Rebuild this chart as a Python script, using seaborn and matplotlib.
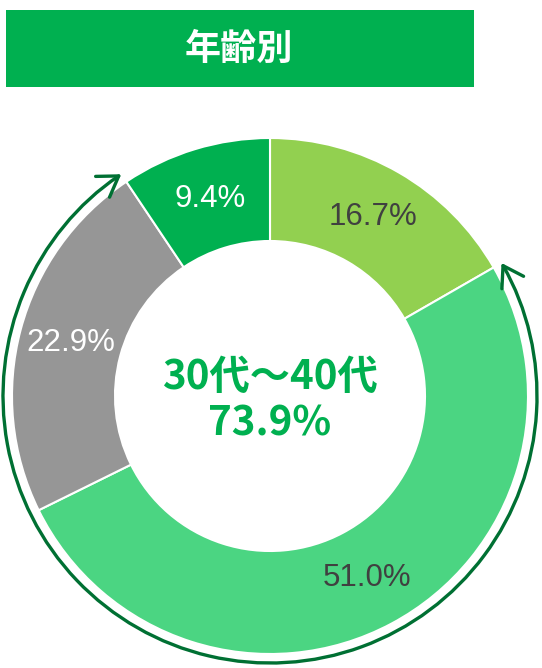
"""
Donut chart : répartition par âge (年齢別)
"""

import numpy as np
import matplotlib
matplotlib.use('Agg')
import matplotlib.pyplot as plt
import seaborn as sns
from matplotlib.patches import Rectangle, FancyArrowPatch
from matplotlib.path import Path
from matplotlib.transforms import Affine2D

# Données
segments = ['20代以下', '30代', '40代', '50代以上']
shares = [16.7, 51.0, 22.9, 9.4]
seg_colors = ['#92D050', '#4BD582', '#969696', '#00B050']
label_colors = ['#404040', '#404040', 'white', 'white']
title = '年齢別'
center_label = '30代～40代'
center_value = '73.9%'

# Configuration
sns.set_theme(style='white')
plt.rcParams['font.family'] = ['Noto Sans CJK JP', 'DejaVu Sans']

W, H = 542, 668
fig = plt.figure(figsize=(W / 100, H / 100), dpi=100)
ax = fig.add_axes([0, 0, 1, 1])

cx, cy = 270, H - 396
r_out, r_in = 258, 155

wedges, texts, autotexts = ax.pie(
    shares, colors=seg_colors, startangle=90, counterclock=False,
    radius=r_out, center=(cx, cy),
    wedgeprops=dict(width=r_out - r_in, edgecolor='white', linewidth=1.5),
    autopct='%.1f%%', pctdistance=0.80,
    textprops=dict(fontsize=22.5, family=['Liberation Sans', 'DejaVu Sans']))
for t, c in zip(autotexts, label_colors):
    t.set_color(c)

ax.set_xlim(0, W)
ax.set_ylim(0, H)
ax.set_aspect('equal')
ax.axis('off')

# Texte central
ax.text(cx, cy + 19, center_label, ha='center', va='center',
        fontsize=29, fontweight='bold', color='#00B050')
ax.text(cx, cy - 28, center_value, ha='center', va='center',
        fontsize=29, fontweight='bold', color='#00B050')

# Arc fléché sur les segments 30代 + 40代
cum = np.cumsum(shares)
theta_end = 90 - 360 * cum[0] / 100 + 360
theta_start = 90 - 360 * cum[2] / 100 + 360
arc = Path.arc(theta_start, theta_end)
arc = Affine2D().scale(267).translate(cx, cy).transform_path(arc)
arrow = FancyArrowPatch(path=arc, arrowstyle='<->,head_length=0.7,head_width=0.45',
                        mutation_scale=20, color='#007033', linewidth=2.4)
ax.add_patch(arrow)

# Bandeau titre
ax.add_patch(Rectangle((6, H - 87), 468, 77, facecolor='#00B050', edgecolor='none'))
ax.text(239, H - 49, title, ha='center', va='center',
        fontsize=26, fontweight='bold', color='white')

plt.savefig('out.png', dpi=100)
plt.close()
